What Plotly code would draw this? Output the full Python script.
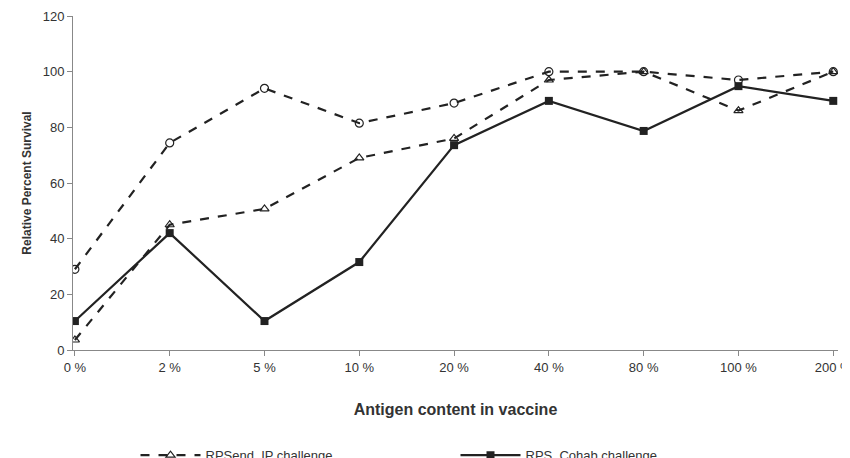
import plotly.graph_objects as go

categories = ["0 %", "2 %", "5 %", "10 %", "20 %", "40 %", "80 %", "100 %", "200 %"]
rps_end = [3.6, 45, 50.7, 69, 76, 97, 100, 86, 100]
rps_cohab = [10.4, 42, 10.4, 31.6, 73.6, 89.5, 78.7, 94.8, 89.5]
rps60 = [29, 74.4, 94, 81.5, 88.7, 100, 100, 97, 100]
y_ticks = [0, 20, 40, 60, 80, 100, 120]

fig = go.Figure()
fig.add_trace(go.Scatter(x=categories, y=rps_end, name="RPSend, IP challenge", mode="lines+markers",
    line=dict(color="#222", width=2.2, dash="dash"),
    marker=dict(symbol="triangle-up-open", size=8, color="#222", line=dict(width=1.2))))
fig.add_trace(go.Scatter(x=categories, y=rps_cohab, name="RPS, Cohab challenge", mode="lines+markers",
    line=dict(color="#222", width=2.2),
    marker=dict(symbol="square", size=8, color="#222")))
fig.add_trace(go.Scatter(x=categories, y=rps60, name="RPS60, IP challenge", mode="lines+markers",
    line=dict(color="#222", width=2.2, dash="dash"),
    marker=dict(symbol="circle-open", size=8, color="#222", line=dict(width=1.2))))

fig.update_layout(
    width=850, height=458, plot_bgcolor="white", paper_bgcolor="white",
    margin=dict(l=65, r=20, t=8, b=116, autoexpand=False),
    font=dict(family="Liberation Sans, Arial", size=13, color="#333"),
    xaxis=dict(title=dict(text="<b>Antigen content in vaccine</b>", standoff=30),
               showline=True, linecolor="#888", ticks="outside", tickcolor="#888",
               showgrid=False, range=[-0.02, 8.05], automargin=False),
    yaxis=dict(title=dict(text="<b>Relative Percent Survival</b>", standoff=8, font=dict(size=12)),
               range=[0, 120], tickvals=y_ticks, showline=True, linecolor="#888",
               ticks="outside", tickcolor="#888", showgrid=False, automargin=False),
    legend=dict(orientation="h", x=0.5, xanchor="center", y=-0.27, yanchor="top",
                font=dict(size=13), entrywidth=245, itemwidth=60),
)
fig.write_html("out.html")
